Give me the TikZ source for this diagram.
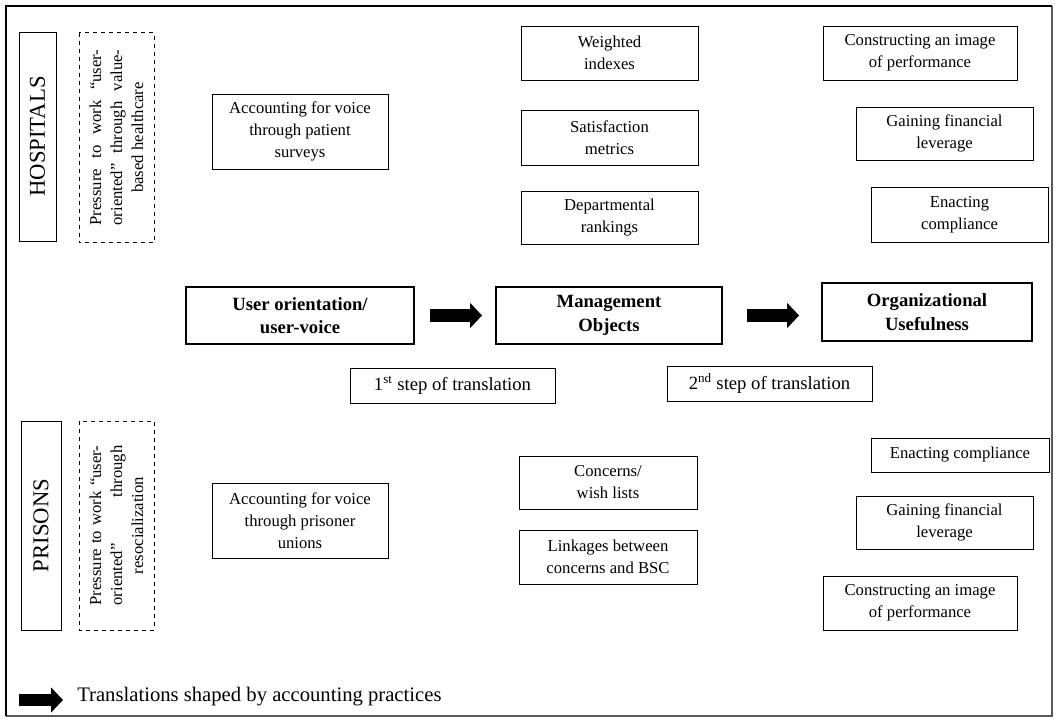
\documentclass[tikz,border=0pt]{standalone}
\usepackage{fontspec}
\setmainfont{Liberation Serif}
\usetikzlibrary{arrows.meta}

\begin{document}
\begin{tikzpicture}[x=0.75pt,y=-0.75pt,
    box/.style={draw, line width=0.6pt, align=center, inner sep=0pt,
        font=\fontsize{12.5}{16.5}\selectfont},
    mainbox/.style={draw, line width=1.4pt, align=center, inner sep=0pt,
        minimum width=170pt, minimum height=42.75pt,
        font=\fontsize{14}{17.5}\selectfont\bfseries},
    stepbox/.style={draw, line width=0.6pt, inner sep=0pt,
        minimum width=153.75pt, minimum height=26.25pt,
        font=\fontsize{14}{17}\selectfont},
    sidebox/.style={draw, line width=0.6pt, rotate=90, inner sep=0pt,
        minimum width=156.75pt, font=\fontsize{17}{20}\selectfont},
    pressbox/.style={draw, dashed, line width=0.6pt, rotate=90, inner sep=0pt,
        align=center, minimum width=157.5pt, minimum height=56.25pt,
        font=\fontsize{12.5}{15.75}\selectfont},
    bigarrow/.style={line width=9.5pt, -{Triangle[length=9pt, width=18.5pt]}}]

    \useasboundingbox (0,0) rectangle (1057,718);
    \draw[gray!70!black, line width=1.1pt] (6,716) -- (1052,716) -- (1052,6);
    \draw[line width=2.2pt] (6,716) -- (6,6) -- (1052,6);

    \node[sidebox, minimum height=27.75pt] (hosp) at (37.5,136.5) {HOSPITALS};
    \node[pressbox] (hpress) at (116.5,137.5) {\makebox[132pt][s]{Pressure to work “user-}\\ \makebox[132pt][s]{oriented” through value-}\\ based healthcare};
    \node[box, minimum width=132pt, minimum height=56.25pt] (hacc) at (300,131.5) {Accounting for voice\\ through patient\\ surveys};

    \node[box, minimum width=132.75pt, minimum height=40.5pt] (weighted) at (609.5,53) {Weighted\\ indexes};
    \node[box, minimum width=132.75pt, minimum height=41.25pt] (satisf) at (609.5,137.5) {Satisfaction\\ metrics};
    \node[box, minimum width=132.75pt, minimum height=39.75pt] (deprank) at (609.5,217.5) {Departmental\\ rankings};

    \node[box, minimum width=145.5pt, minimum height=40.5pt] (hconstr) at (920,53) {Constructing an image\\ of performance};
    \node[box, minimum width=132.75pt, minimum height=39.75pt] (hgain) at (944.5,133.5) {Gaining financial\\ leverage};
    \node[box, minimum width=132.75pt, minimum height=41.25pt] (henact) at (959.5,214.5) {Enacting\\ compliance};

    \node[mainbox, minimum width=171pt] (user) at (300,315.5) {User orientation/\\ user-voice};
    \node[mainbox, minimum width=169.5pt] (mgmt) at (609,315.5) {Management\\ Objects};
    \node[mainbox, minimum width=157.5pt, minimum height=43.5pt] (orgu) at (927,312) {Organizational\\ Usefulness};
    \draw[bigarrow, shorten <=11.25pt, shorten >=9.75pt] (user.east) -- (mgmt.west);
    \draw[bigarrow, shorten <=18pt, shorten >=16.5pt] (mgmt.east) -- (mgmt.east -| orgu.west);

    \node[stepbox] (step1) at (452.5,385.5) {1\textsuperscript{st} step of translation};
    \node[stepbox] (step2) at (769.5,383.5) {2\textsuperscript{nd} step of translation};

    \node[sidebox, minimum height=30pt] (pris) at (41,525.5) {PRISONS};
    \node[pressbox, minimum width=156.75pt] (ppress) at (116.5,525.5) {\makebox[120pt][s]{Pressure to work “user-}\\ \makebox[120pt][s]{oriented” through}\\ resocialization};
    \node[box, minimum width=132pt, minimum height=56.25pt] (pacc) at (300,520.5) {Accounting for voice\\ through prisoner\\ unions};

    \node[box, minimum width=133.5pt, minimum height=39.75pt] (concerns) at (608,482.5) {Concerns/\\ wish lists};
    \node[box, minimum width=133.5pt, minimum height=40.5pt] (linkages) at (608,557) {Linkages between\\ concerns and BSC};

    \node[box, minimum width=133.5pt, minimum height=25.5pt] (penact) at (960,455) {Enacting compliance};
    \node[box, minimum width=132.75pt, minimum height=39.75pt] (pgain) at (944.5,522.5) {Gaining financial\\ leverage};
    \node[box, minimum width=145.5pt, minimum height=40.5pt] (pconstr) at (920,603) {Constructing an image\\ of performance};

    \coordinate (legstart) at (19,700);
    \coordinate (legend) at (63,700);
    \draw[bigarrow] (legstart) -- (legend);
    \node[anchor=west, inner sep=0pt, font=\fontsize{15.5}{18}\selectfont] (legtext) at (77,697) {Translations shaped by accounting practices};
\end{tikzpicture}
\end{document}
